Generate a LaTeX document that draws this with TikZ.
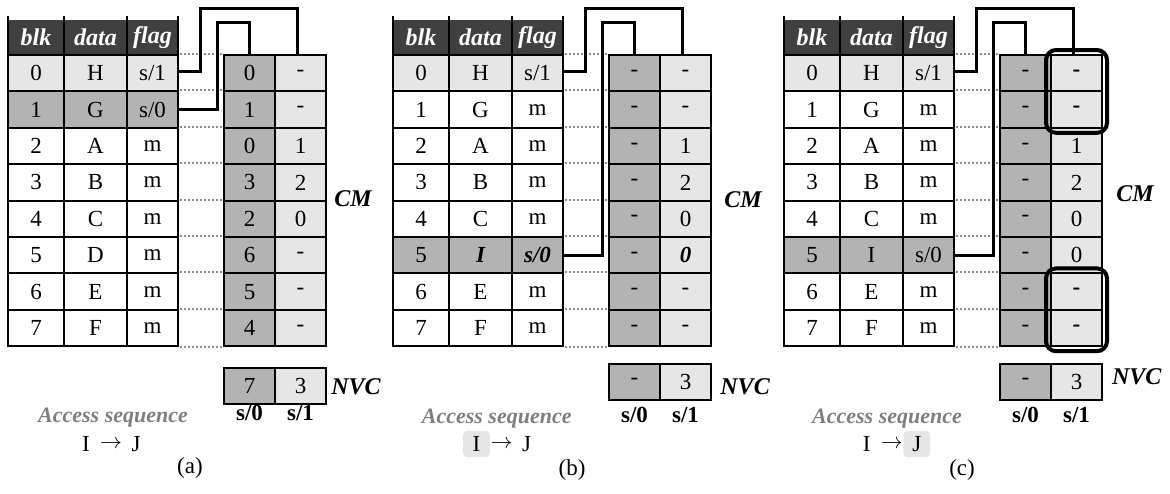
\documentclass[tikz,border=0pt]{standalone}
\usepackage{fontspec}
\setmainfont{Liberation Serif}
\usetikzlibrary{calc,fit}
\definecolor{hdr}{HTML}{404040}
\definecolor{lg}{HTML}{E6E6E6}
\definecolor{mg}{HTML}{B3B3B3}
\definecolor{acc}{HTML}{7F7F7F}
\def\szero{s/0}
\def\sone{s/1}
\tikzset{
 cell/.style={draw=black, line width=1pt, inner sep=0pt, minimum height=18.2pt, font=\fontsize{11.5}{13}\selectfont, anchor=center},
 c0/.style={cell, minimum width=28pt},
 c1/.style={cell, minimum width=31.5pt},
 c2/.style={cell, minimum width=25.5pt},
 cmcell/.style={cell, minimum width=25.5pt},
 hdrcell/.style={fill=hdr, text=white, inner sep=0pt, minimum height=17.5pt, font=\fontsize{12}{14}\selectfont\bfseries\itshape},
 dots/.style={draw=black!45, line width=1pt, dash pattern=on 1pt off 1pt, shorten <=0.5pt, shorten >=0.5pt},
 conn/.style={draw=black, line width=1.5pt},
 lbl/.style={font=\fontsize{12}{14}\selectfont\bfseries\itshape, inner sep=0pt},
 sl/.style={font=\fontsize{11.5}{13}\selectfont\bfseries, inner sep=0pt},
 accs/.style={font=\fontsize{11}{13}\selectfont\bfseries\itshape, text=acc, inner sep=0pt},
 ij/.style={font=\fontsize{11.5}{13}\selectfont, inner sep=0pt, minimum width=13.3pt, minimum height=13.2pt, rounded corners=2pt},
 hl/.style={fill=lg},
 arr/.style={font=\fontsize{11}{13}\selectfont, inner sep=0pt},
 capt/.style={font=\fontsize{11.5}{13}\selectfont, inner sep=0pt},
 rbox/.style={draw=black, line width=2pt, rounded corners=5pt, inner sep=2pt},
}
\newcommand\drawpanel[5]{%
 \node[hdrcell, minimum width=28pt] (#1H0) at (#2+36, 37.5) {blk};
 \node[hdrcell, minimum width=31.5pt] (#1H1) at (#2+95.5, 37.5) {data};
 \node[hdrcell, minimum width=25.5pt] (#1H2) at (#2+152.5, 37.5) {flag};
 \foreach \k in {0,1,2} \draw[line width=1pt] (#1H\k.south west) -- ++(0,-39);
 \draw[line width=1pt] (#1H2.south east) -- ++(0,-39);
 \foreach \r/\d/\f/\fc/\ft in #3 {%
  \node[c0, fill=\fc] (#1L\r-0) at (#2+36, 73.2+36.4*\r) {\r};
  \node[c1, fill=\fc] (#1L\r-1) at (#2+95.5, 73.2+36.4*\r) {\ft\d};
  \node[c2, fill=\fc] (#1L\r-2) at (#2+152.5, 73.2+36.4*\r) {\ft\f};
 }
 \foreach \r/\a/\b/\fb in #4 {%
  \node[cmcell, fill=mg] (#1C\r-0) at (#2+249.5, 73.2+36.4*\r) {\a};
  \node[cmcell, fill=lg] (#1C\r-1) at (#2+300.5, 73.2+36.4*\r) {\fb\b};
 }
 \foreach \r in {0,...,7} \draw[dots] (#1L\r-2.north east) -- (#1C\r-0.north west);
 \draw[dots] (#1L7-2.south east) -- (#1C7-0.south west);
 \coordinate (#1T1) at (#2+200, 8.3);
 \coordinate (#1T2) at (#2+217, 22.7);
 \draw[conn] ([yshift=1pt]#1L0-2.east) -| (#1T1) -| ([xshift=-1.5pt]#1C0-1.north);
 \draw[conn] (#1L#5-2.east) -| (#1T2) -| (#1C0-0.north);
}
\def\LTa{0/H/\sone/lg/\relax, 1/G/\szero/mg/\relax, 2/A/m/white/\relax, 3/B/m/white/\relax, 4/C/m/white/\relax, 5/D/m/white/\relax, 6/E/m/white/\relax, 7/F/m/white/\relax}
\def\CMa{0/0/-/\relax, 1/1/-/\relax, 2/0/1/\relax, 3/3/2/\relax, 4/2/0/\relax, 5/6/-/\relax, 6/5/-/\relax, 7/4/-/\relax}
\def\LTb{0/H/\sone/lg/\relax, 1/G/m/white/\relax, 2/A/m/white/\relax, 3/B/m/white/\relax, 4/C/m/white/\relax, 5/I/\szero/mg/\bfseries\itshape, 6/E/m/white/\relax, 7/F/m/white/\relax}
\def\CMb{0/-/-/\relax, 1/-/-/\relax, 2/-/1/\relax, 3/-/2/\relax, 4/-/0/\relax, 5/-/0/\bfseries\itshape, 6/-/-/\relax, 7/-/-/\relax}
\def\LTc{0/H/\sone/lg/\relax, 1/G/m/white/\relax, 2/A/m/white/\relax, 3/B/m/white/\relax, 4/C/m/white/\relax, 5/I/\szero/mg/\relax, 6/E/m/white/\relax, 7/F/m/white/\relax}
\def\CMc{0/-/-/\bfseries, 1/-/-/\bfseries, 2/-/1/\relax, 3/-/2/\relax, 4/-/0/\relax, 5/-/0/\relax, 6/-/-/\bfseries, 7/-/-/\bfseries}
\begin{document}
\begin{tikzpicture}[x=0.5pt, y=-0.5pt]
\useasboundingbox (0,0) rectangle (1170,493);
% panel (a)
\drawpanel{a}{0}{\LTa}{\CMa}{1}
\node[lbl] (aCM) at (353, 199) {CM};
\node[cmcell, fill=mg] (aN0) at (249.5, 386) {7};
\node[cmcell, fill=lg] (aN1) at (300.5, 386) {3};
\node[lbl, anchor=west] (aNVC) at (331, 386.7) {NVC};
\node[sl] (aS0) at (249.5, 413) {s/0};
\node[sl] (aS1) at (300.5, 413) {s/1};
\node[accs] (aAS) at (113, 418) {Access sequence};
\node[arr] (aAr) at (111, 444) {$\rightarrow$};
\node[ij, anchor=east] (aI) at (aAr.west) {I};
\node[ij, anchor=west] (aJ) at (aAr.east) {J};
\node[capt] (aCap) at (190, 468) {(a)};
% panel (b)
\drawpanel{b}{385}{\LTb}{\CMb}{5}
\node[lbl] (bCM) at (743, 200) {CM};
\node[cmcell, fill=mg] (bN0) at (634.5, 381.7) {-};
\node[cmcell, fill=lg] (bN1) at (685.5, 381.7) {3};
\node[lbl, anchor=west] (bNVC) at (720, 386.7) {NVC};
\node[sl] (bS0) at (634.5, 415) {s/0};
\node[sl] (bS1) at (685.5, 415) {s/1};
\node[accs] (bAS) at (496.7, 419) {Access sequence};
\node[arr] (bAr) at (501.5, 444) {$\rightarrow$};
\node[ij, hl, anchor=east] (bI) at (bAr.west) {I};
\node[ij, anchor=west] (bJ) at (bAr.east) {J};
\node[capt] (bCap) at (572, 470) {(b)};
% panel (c)
\drawpanel{c}{776}{\LTc}{\CMc}{5}
\node[rbox, fit=(cC0-1)(cC1-1)] (cB1) {};
\node[rbox, fit=(cC6-1)(cC7-1)] (cB2) {};
\node[lbl] (cCM) at (1135, 194) {CM};
\node[cmcell, fill=mg] (cN0) at (1025.5, 381.7) {-};
\node[cmcell, fill=lg] (cN1) at (1076.5, 381.7) {3};
\node[lbl, anchor=west] (cNVC) at (1111.7, 376.7) {NVC};
\node[sl] (cS0) at (1025.5, 415) {s/0};
\node[sl] (cS1) at (1076.5, 415) {s/1};
\node[accs] (cAS) at (887, 419) {Access sequence};
\node[arr] (cAr) at (891.7, 444) {$\rightarrow$};
\node[ij, anchor=east] (cI) at (cAr.west) {I};
\node[ij, hl, anchor=west] (cJ) at (cAr.east) {J};
\node[capt] (cCap) at (962, 470) {(c)};
\end{tikzpicture}
\end{document}
